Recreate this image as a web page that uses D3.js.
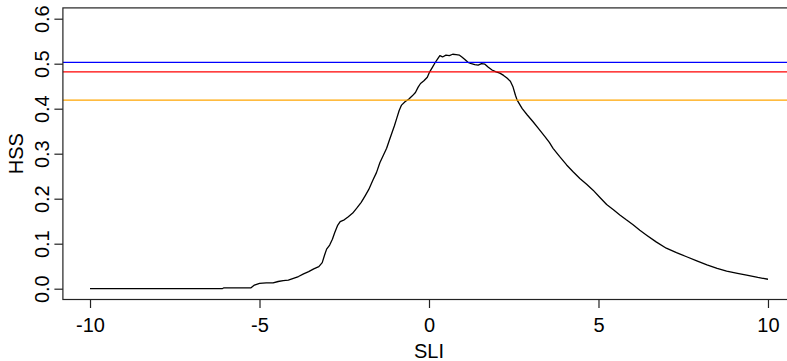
<!DOCTYPE html>
<html>
<head>
<meta charset="utf-8">
<script src="https://cdn.jsdelivr.net/npm/d3@7"></script>
<style>
  html, body { margin: 0; padding: 0; background: #fff; }
  svg { display: block; }
  text { font-family: "Liberation Sans", Arial, sans-serif; fill: #000; }
</style>
</head>
<body>
<svg id="chart" width="787" height="361"></svg>
<script>
// SLI values along the curve
const sli = [
  -10.00, -6.10, -6.05, -5.25, -5.15, -5.00, -4.80, -4.60, -4.45, -4.30,
  -4.15, -4.00, -3.85, -3.70, -3.55, -3.40, -3.25, -3.15, -3.08, -3.02,
  -2.93, -2.85, -2.78, -2.70, -2.62, -2.50, -2.38, -2.25, -2.12, -2.00,
  -1.88, -1.78, -1.65, -1.55, -1.45, -1.35, -1.25, -1.17, -1.10, -1.02,
  -0.95, -0.88, -0.81, -0.70, -0.60, -0.50, -0.40, -0.32, -0.25, -0.15,
  -0.05, 0.02, 0.10, 0.17, 0.25, 0.32, 0.40, 0.50, 0.60, 0.70,
  0.80, 0.90, 0.97, 1.05, 1.15, 1.25, 1.35, 1.45, 1.55, 1.65,
  1.75, 1.86, 1.98, 2.09, 2.20, 2.30, 2.40, 2.48, 2.55, 2.60,
  2.75, 2.90, 3.07, 3.25, 3.42, 3.55, 3.66, 3.85, 4.06, 4.25,
  4.45, 4.65, 4.84, 5.05, 5.24, 5.45, 5.63, 5.82, 6.02, 6.22,
  6.42, 6.70, 7.00, 7.30, 7.60, 7.90, 8.20, 8.50, 8.78, 9.10,
  9.37, 9.70, 10.00
];

// HSS at each SLI value
const hss = [
  0.000, 0.000, 0.002, 0.002, 0.008, 0.012, 0.013, 0.013, 0.016, 0.018,
  0.019, 0.023, 0.027, 0.033, 0.038, 0.044, 0.049, 0.058, 0.075, 0.088,
  0.097, 0.110, 0.125, 0.140, 0.149, 0.153, 0.160, 0.168, 0.180, 0.192,
  0.207, 0.220, 0.242, 0.258, 0.280, 0.296, 0.312, 0.330, 0.345, 0.362,
  0.379, 0.396, 0.408, 0.416, 0.421, 0.428, 0.436, 0.448, 0.456, 0.462,
  0.470, 0.482, 0.492, 0.501, 0.510, 0.518, 0.515, 0.519, 0.518, 0.521,
  0.520, 0.519, 0.515, 0.510, 0.503, 0.500, 0.498, 0.497, 0.500, 0.499,
  0.492, 0.486, 0.482, 0.479, 0.474, 0.468, 0.461, 0.448, 0.430, 0.419,
  0.400, 0.386, 0.371, 0.354, 0.338, 0.325, 0.312, 0.294, 0.275, 0.260,
  0.245, 0.232, 0.219, 0.202, 0.187, 0.175, 0.164, 0.153, 0.142, 0.130,
  0.119, 0.104, 0.090, 0.080, 0.071, 0.062, 0.053, 0.045, 0.039, 0.034,
  0.030, 0.025, 0.021
];

// Reference levels drawn as horizontal lines
const refLevels = [0.503, 0.482, 0.419];
const refColors = ["#0000ff", "#ff0000", "#ffa500"];

// Axis ticks
const xTicks = [-10, -5, 0, 5, 10];
const yTicks = [0.0, 0.1, 0.2, 0.3, 0.4, 0.5, 0.6];

const svg = d3.select("#chart");

// Plot region with the usual 4% padding on each side
const x = d3.scaleLinear().domain([-10.8, 10.8]).range([62.9, 795.1]);
const y = d3.scaleLinear().domain([-0.024, 0.624]).range([299.5, 7.9]);

const [x0, x1] = x.range();
const [yb, yt] = y.range();

const data = sli.map((s, i) => ({ s, h: hss[i] }));

// Curve
const line = d3.line().x(d => x(d.s)).y(d => y(d.h));
svg.append("path")
  .datum(data)
  .attr("fill", "none")
  .attr("stroke", "#000")
  .attr("stroke-width", 1.3)
  .attr("stroke-linejoin", "round")
  .attr("d", line);

// Horizontal reference lines
svg.selectAll("line.ref")
  .data(refLevels)
  .join("line")
  .attr("class", "ref")
  .attr("x1", x0).attr("x2", x1)
  .attr("y1", d => y(d)).attr("y2", d => y(d))
  .attr("stroke", (d, i) => refColors[i])
  .attr("stroke-width", 1.3);

// Frame around the plot region
svg.append("rect")
  .attr("x", x0).attr("y", yt)
  .attr("width", x1 - x0).attr("height", yb - yt)
  .attr("fill", "none")
  .attr("stroke", "#222")
  .attr("stroke-width", 1.2);

// Bottom axis
const xAxis = svg.append("g")
  .attr("transform", `translate(0,${yb})`)
  .call(d3.axisBottom(x).tickValues(xTicks).tickSize(8.5).tickSizeOuter(0)
    .tickFormat(d3.format("d")));
xAxis.select(".domain").remove();
xAxis.selectAll(".tick line").attr("stroke", "#222").attr("stroke-width", 1.2);
xAxis.selectAll(".tick text")
  .attr("y", 32.5).attr("dy", null)
  .style("font-size", "20px")
  .attr("font-family", null)
  .text(d => d < 0 ? "-" + Math.abs(d) : String(d));

// Left axis, labels rotated to run along the axis
const yAxis = svg.append("g")
  .attr("transform", `translate(${x0},0)`)
  .call(d3.axisLeft(y).tickValues(yTicks).tickSize(8.5).tickSizeOuter(0)
    .tickFormat(d3.format(".1f")));
yAxis.select(".domain").remove();
yAxis.selectAll(".tick line").attr("stroke", "#222").attr("stroke-width", 1.2);
yAxis.selectAll(".tick text")
  .attr("x", 0).attr("y", -13.5).attr("dy", null)
  .attr("transform", "rotate(-90)")
  .attr("text-anchor", "middle")
  .attr("font-family", null)
  .style("font-size", "20px");

// Axis titles
svg.append("text")
  .attr("x", (x0 + x1) / 2).attr("y", 358)
  .attr("text-anchor", "middle")
  .style("font-size", "20px")
  .text("SLI");

svg.append("text")
  .attr("transform", `translate(23,${(yb + yt) / 2}) rotate(-90)`)
  .attr("text-anchor", "middle")
  .style("font-size", "20px")
  .text("HSS");
</script>
</body>
</html>
